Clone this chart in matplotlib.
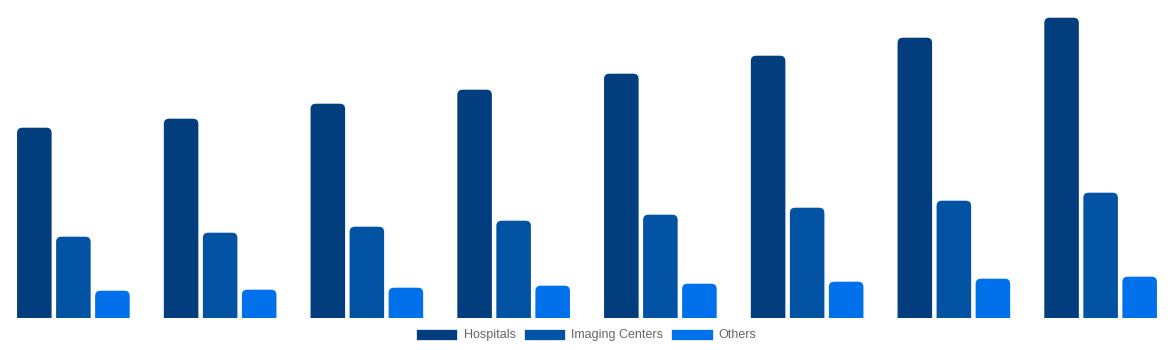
import numpy as np
import matplotlib.pyplot as plt
from matplotlib.patches import FancyBboxPatch, Patch

# values (arbitrary units, no axis shown)
years = ['2018', '2019', '2020', '2021', '2022', '2023', '2024', '2025']
hospitals = [19.1, 20.0, 21.5, 22.9, 24.5, 26.3, 28.1, 30.1]
imaging = [8.2, 8.6, 9.2, 9.8, 10.4, 11.1, 11.8, 12.6]
others = [2.8, 2.9, 3.1, 3.3, 3.5, 3.7, 4.0, 4.2]

series = [('Hospitals', hospitals, '#023E7D'),
          ('Imaging Centers', imaging, '#0353A4'),
          ('Others', others, '#0070EB')]

fig = plt.figure(figsize=(11.74, 3.5), dpi=100)
ax = fig.add_axes([0, 32 / 350, 1, 318 / 350])

x = np.arange(len(years))
offset = 0.266
width = 0.245
ymax = 31.8
ax.set_xlim(-0.5, len(years) - 0.5)
ax.set_ylim(0, ymax)

# pixel size per data unit, to keep corner rounding circular
px_x = 1174 / len(years)
px_y = 318 / ymax
r_px = 6
aspect = px_x / px_y

for i, (name, vals, color) in enumerate(series):
    bars = ax.bar(x + (i - 1) * offset, vals, width, color=color)
    for b in bars:
        b.set_visible(False)
        bx, by = b.get_x(), b.get_y()
        bw, bh = b.get_width(), b.get_height()
        ext = 2 * r_px / px_y
        p = FancyBboxPatch((bx, by - ext), bw, bh + ext,
                           boxstyle='round,pad=0,rounding_size=%f' % (r_px / px_x),
                           mutation_aspect=aspect,
                           facecolor=color, edgecolor='white', linewidth=1)
        ax.add_patch(p)

ax.axis('off')

handles = [Patch(facecolor=c, edgecolor='white', linewidth=0.5) for _, _, c in series]
fig.legend(handles, [s[0] for s in series], loc='center', bbox_to_anchor=(0.4995, 15 / 350),
           ncol=3, frameon=False, handlelength=3.3, handleheight=1.0,
           handletextpad=0.5, columnspacing=0.65, borderpad=0,
           prop={'family': 'Liberation Sans', 'size': 9}, labelcolor='#666666')

plt.savefig('out.png', dpi=100)
